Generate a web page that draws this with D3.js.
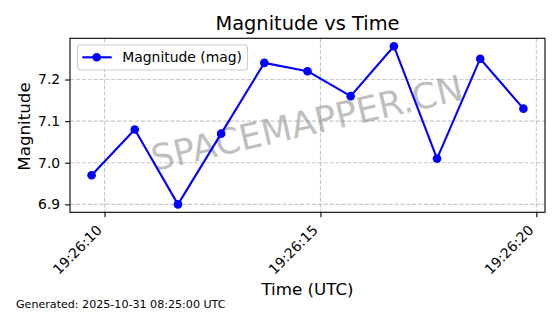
<!DOCTYPE html>
<html><head><meta charset="utf-8">
<script src="https://cdn.jsdelivr.net/npm/d3@7"></script>
<style>body{margin:0;background:#fff;}svg{display:block;font-family:"DejaVu Sans",sans-serif;}</style>
</head><body>
<svg id="c" width="560" height="314"></svg>
<script>
const times = ["19:26:09.7","19:26:10.7","19:26:11.7","19:26:12.7","19:26:13.7","19:26:14.7","19:26:15.7","19:26:16.7","19:26:17.7","19:26:18.7","19:26:19.7"];
const magnitudes = [6.97, 7.08, 6.90, 7.07, 7.24, 7.22, 7.16, 7.28, 7.01, 7.25, 7.13];
const xTickLabels = ["19:26:10","19:26:15","19:26:20"];
const yTicks = [6.9, 7.0, 7.1, 7.2];
const seriesName = "Magnitude (mag)";

const parse = s => { const [h,m,sec] = s.split(":"); return Date.UTC(2025,9,31,+h,+m,0) + (+sec)*1000; };
const xs = times.map(parse);
const tickVals = xTickLabels.map(t => parse(t));
const pts = xs.map((t,i)=>[t,magnitudes[i]]);

const L=70, R=545, T=38.3, B=212.3;
const xmin=d3.min(xs), xmax=d3.max(xs), xpad=(xmax-xmin)*0.05;
const ymin=d3.min(magnitudes), ymax=d3.max(magnitudes), ypad=(ymax-ymin)*0.05;
const x=d3.scaleLinear().domain([xmin-xpad,xmax+xpad]).range([L,R]);
const y=d3.scaleLinear().domain([ymin-ypad,ymax+ypad]).range([B,T]);

const svg=d3.select("#c");
const gridStyle = sel => sel.attr("stroke","#b0b0b0").attr("stroke-opacity",0.7).attr("stroke-width",1.1).attr("stroke-dasharray","4.1,1.8");
svg.append("g").selectAll("line").data(tickVals).enter().append("line")
 .attr("x1",d=>x(d)).attr("x2",d=>x(d)).attr("y1",T).attr("y2",B).call(gridStyle);
svg.append("g").selectAll("line").data(yTicks).enter().append("line")
 .attr("y1",d=>y(d)).attr("y2",d=>y(d)).attr("x1",L).attr("x2",R).call(gridStyle);

// watermark
svg.append("text").attr("x",307).attr("y",123).attr("text-anchor","middle").attr("dominant-baseline","central")
 .attr("transform","rotate(-13,307,123)").attr("font-size",35.5).attr("fill","#808080").attr("fill-opacity",0.5)
 .text("SPACEMAPPER.CN");

// line + markers
svg.append("path").datum(pts)
 .attr("d",d3.line().x(d=>x(d[0])).y(d=>y(d[1]))).attr("fill","none").attr("stroke","#0000ff").attr("stroke-width",2.1).attr("stroke-linejoin","round");
svg.append("g").selectAll("circle").data(pts).enter().append("circle")
 .attr("cx",d=>x(d[0])).attr("cy",d=>y(d[1])).attr("r",4.3).attr("fill","#0000ff");

// frame
svg.append("rect").attr("x",L).attr("y",T).attr("width",R-L).attr("height",B-T).attr("fill","none").attr("stroke","#000").attr("stroke-width",1.1);

// axes
const xAxis=d3.axisBottom(x).tickValues(tickVals).tickFormat((d,i)=>xTickLabels[i]).tickSize(4.9).tickPadding(4.9);
const xg=svg.append("g").attr("transform",`translate(0,${B})`).call(xAxis);
xg.select(".domain").remove();
xg.selectAll("line").attr("stroke","#000").attr("stroke-width",1.1);
xg.selectAll("text").attr("font-size",13.9).attr("font-family","DejaVu Sans").attr("fill","#000")
 .attr("text-anchor","end").attr("dy",null).attr("y",0).attr("x",0)
 .attr("transform","translate(-2.3,18.8) rotate(-45)");

const yAxis=d3.axisLeft(y).tickValues(yTicks).tickFormat(d3.format(".1f")).tickSize(4.9).tickPadding(4.9);
const yg=svg.append("g").attr("transform",`translate(${L},0)`).call(yAxis);
yg.select(".domain").remove();
yg.selectAll("line").attr("stroke","#000").attr("stroke-width",1.1);
yg.selectAll("text").attr("font-size",13.9).attr("font-family","DejaVu Sans").attr("fill","#000");

// labels
svg.append("text").attr("x",(L+R)/2).attr("y",30).attr("text-anchor","middle").attr("font-size",19.4).text("Magnitude vs Time");
svg.append("text").attr("x",(L+R)/2).attr("y",294.5).attr("text-anchor","middle").attr("font-size",16.7).text("Time (UTC)");
svg.append("text").attr("transform",`translate(29.6,126.5) rotate(-90)`).attr("text-anchor","middle").attr("font-size",16.7).text("Magnitude");
svg.append("text").attr("x",16).attr("y",308.2).attr("font-size",11.1).text("Generated: 2025-10-31 08:25:00 UTC");

// legend
const lg=svg.append("g");
lg.append("rect").attr("x",77.5).attr("y",45).attr("width",170).attr("height",25).attr("rx",3)
 .attr("fill","#fff").attr("fill-opacity",0.8).attr("stroke","#cccccc").attr("stroke-width",1.1);
lg.append("line").attr("x1",82.3).attr("x2",111.7).attr("y1",57.3).attr("y2",57.3).attr("stroke","#0000ff").attr("stroke-width",2.1);
lg.append("circle").attr("cx",96.7).attr("cy",57.3).attr("r",4.3).attr("fill","#0000ff");
lg.append("text").attr("x",122.3).attr("y",57.3).attr("dy","0.36em").attr("font-size",13.9).text(seriesName);
</script>
</body></html>
